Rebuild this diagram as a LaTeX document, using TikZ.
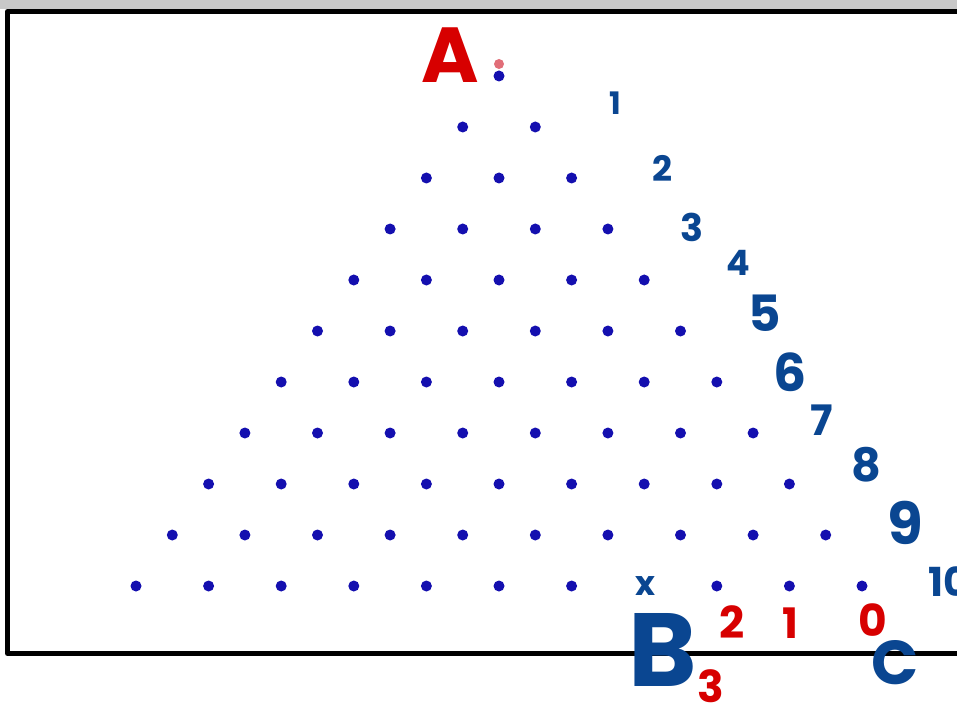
\documentclass[tikz,border=0pt]{standalone}
\usepackage{fontspec}
\newfontfamily\hand{Poppins}
\definecolor{dotblue}{RGB}{20,15,175}
\definecolor{penblue}{RGB}{10,70,145}
\definecolor{penred}{RGB}{215,0,0}
\definecolor{pinkdot}{RGB}{225,110,120}
\definecolor{stripgray}{RGB}{200,200,200}
\begin{document}
\begin{tikzpicture}[x=1pt,y=-1pt,
  dotst/.style={circle,fill=dotblue,inner sep=0pt,minimum size=11pt},
  hw/.style={font=\hand\bfseries\fontsize{#1}{#1}\selectfont,inner sep=0pt},
  bluepen/.style={hw=#1,text=penblue},
  redpen/.style={hw=#1,text=penred}]
\useasboundingbox (0,0) rectangle (957,708);
\fill[stripgray] (0,0) rectangle (957,9);
\draw[line width=5pt,line join=round] (1000,11.5) -- (7.5,11.5) -- (7.5,653.5) -- (1000,653.5);
% dots
\foreach \r in {0,...,10}{
  \foreach \k in {0,...,\r}{
    \ifnum\r=10 \ifnum\k=7 \else
      \node[dotst] (d-\r-\k) at ({499+36.3*(2*\k-\r)},{76+51*\r}) {};
    \fi\else
      \node[dotst] (d-\r-\k) at ({499+36.3*(2*\k-\r)},{76+51*\r}) {};
    \fi
  }
}
\node[circle,fill=pinkdot,inner sep=0pt,minimum size=10pt] (apexred) at (499,64) {};
% labels
\node[redpen=78] (A) at (450,55) {A};
\node[bluepen=104] (B) at (663,650) {B};
\node[bluepen=62] (C) at (895,663) {C};
\node[bluepen=34] (x) at (645,586) {x};
\node[bluepen=31] (n1) at (615,103) {1};
\node[bluepen=35] (n2) at (662,168) {2};
\node[bluepen=38] (n3) at (692,227) {3};
\node[bluepen=35] (n4) at (738,263) {4};
\node[bluepen=50] (n5) at (765,313) {5};
\node[bluepen=52] (n6) at (790,372) {6};
\node[bluepen=42] (n7) at (822,420) {7};
\node[bluepen=46] (n8) at (866,465) {8};
\node[bluepen=58] (n9) at (905,523) {9};
\node[bluepen=40,anchor=west] (n10) at (928,582) {10};
\node[redpen=44] (r2) at (732,622) {2};
\node[redpen=42] (r1) at (790,623) {1};
\node[redpen=44] (r0) at (873,620) {0};
\node[redpen=44] (r3) at (711,686) {3};
\end{tikzpicture}
\end{document}
